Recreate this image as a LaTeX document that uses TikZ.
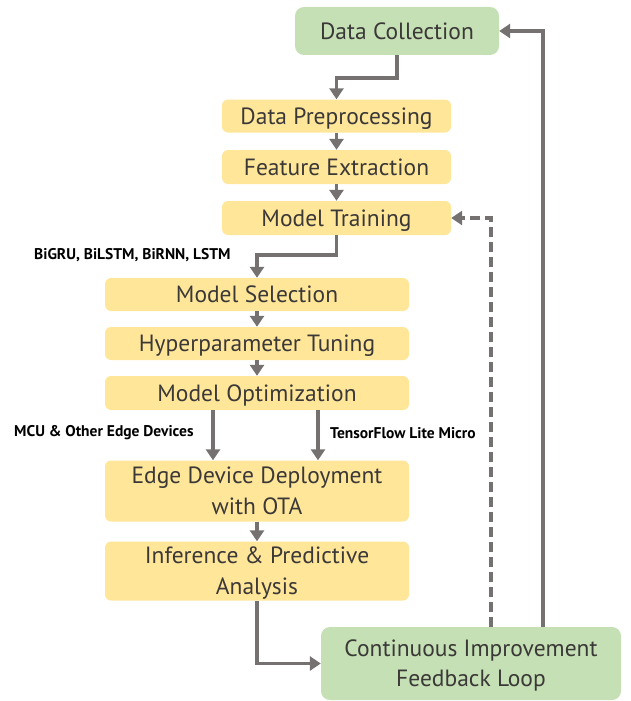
\documentclass[tikz,border=0pt]{standalone}
\usepackage{fontspec}
\setmainfont{PT Sans}
\usetikzlibrary{arrows.meta}
\definecolor{boxyellow}{HTML}{FFE699}
\definecolor{boxgreen}{HTML}{C5E0B4}
\definecolor{linegray}{HTML}{767171}
\definecolor{txtgray}{HTML}{3B3838}
\begin{document}
\begin{tikzpicture}[x=1pt,y=-1pt,
  ybox/.style={fill=boxyellow,rounded corners=6pt,text=txtgray,font=\fontsize{23.5}{31}\selectfont,align=center,inner sep=0pt,minimum width=304pt,text depth=0pt},
  gbox/.style={fill=boxgreen,rounded corners=9pt,text=txtgray,font=\fontsize{23.5}{30}\selectfont,align=center,inner sep=0pt,text depth=0pt},
  arr/.style={draw=linegray,line width=3.5pt,-{Triangle[length=11pt,width=14pt]}},
  lbl/.style={text=black,font=\bfseries\fontsize{15.5}{18}\selectfont,inner sep=0pt}]
\useasboundingbox (0,0) rectangle (631,701);
\node[gbox,minimum width=204pt,minimum height=48pt] (dc) at (397,31) {Data Collection};
\node[ybox,minimum width=229pt,minimum height=33pt] (dp) at (336.5,116) {Data Preprocessing};
\node[ybox,minimum width=229pt,minimum height=34pt] (fe) at (336.5,167) {Feature Extraction};
\node[ybox,minimum width=229pt,minimum height=34pt] (mt) at (336.5,218) {Model Training};
\node[ybox,minimum height=33pt] (ms) at (257,294.5) {Model Selection};
\node[ybox,minimum height=33pt] (ht) at (257,343.5) {Hyperparameter Tuning};
\node[ybox,minimum height=34pt] (mo) at (257,393) {Model Optimization};
\node[ybox,minimum height=61pt] (ed) at (257,491) {Edge Device Deployment\\with OTA};
\node[ybox,minimum height=59pt] (ia) at (257,571) {Inference \& Predictive\\Analysis};
\node[gbox,minimum width=300pt,minimum height=73pt] (ci) at (471,663.5) {Continuous Improvement\\Feedback Loop};
\coordinate (a1) at (213,0);
\coordinate (a2) at (318,0);
\coordinate (d1) at (491,0);
\coordinate (s1) at (543,0);
\node[lbl,anchor=west] (l1) at (34,255) {BiGRU, BiLSTM, BiRNN, LSTM};
\node[lbl,anchor=west] (l2) at (14,433) {MCU \& Other Edge Devices};
\node[lbl,anchor=west] (l3) at (330,433) {TensorFlow Lite Micro};
\draw[arr] (dc.south) -- ++(0,23) -| (dp.north);
\draw[arr] (dp) -- (fe);
\draw[arr] (fe) -- (mt);
\draw[arr] (mt.south) -- ++(0,20) -| (ms.north);
\draw[arr] (ms) -- (ht);
\draw[arr] (ht) -- (mo);
\draw[arr] (mo.south -| a1) -- (ed.north -| a1);
\draw[arr] (mo.south -| a2) -- (ed.north -| a2);
\draw[arr] (ed) -- (ia);
\draw[arr] (ia.south) |- (ci.west);
\draw[arr,dash pattern=on 10pt off 5pt] (ci.north -| d1) |- (mt.east);
\draw[arr] (ci.north -| s1) |- (dc.east);
\end{tikzpicture}
\end{document}
